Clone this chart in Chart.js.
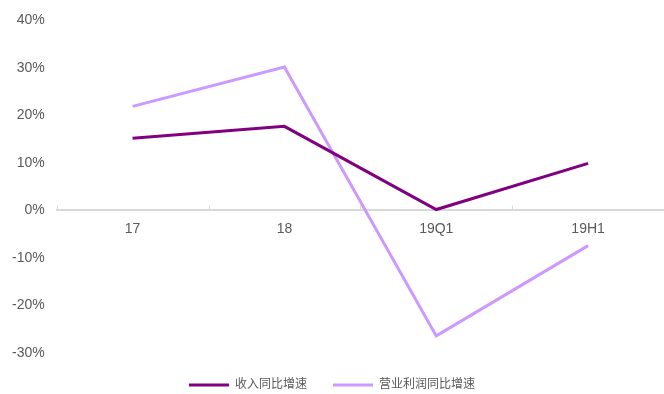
<!DOCTYPE html>
<html lang="zh">
  <head>
    <meta charset="utf-8" />
    <title>增速</title>
    <style>
      html, body { margin: 0; padding: 0; background: #fff; }
      #wrap { width: 664px; height: 394px; }
    </style>
  </head>
  <body>
    <div id="wrap">
      <canvas id="canvas"></canvas>
    </div>

    <script src="https://cdn.jsdelivr.net/npm/chart.js"></script>

    <script>
      const categories = ["17", "18", "19Q1", "19H1"];
      const revenueGrowth = [15.2, 17.7, 0.2, 9.9];
      const profitGrowth = [21.9, 30.2, -26.4, -7.4];
      const yTicks = [-30, -20, -10, 0, 10, 20, 30, 40];

      const font = "'Liberation Sans', 'Noto Sans CJK SC', sans-serif";

      // small upward tick marks on the zero axis, at category boundaries
      const upTicks = {
        id: "upTicks",
        afterDatasetsDraw(chart) {
          const x = chart.scales.x;
          const y0 = chart.scales.y.getPixelForValue(0);
          const step = x.getPixelForValue(1) - x.getPixelForValue(0);
          const c = chart.ctx;
          c.save();
          c.strokeStyle = "#d9d9d9";
          c.lineWidth = 1;
          for (let i = 0; i < categories.length; i++) {
            const px = Math.round(x.getPixelForValue(i) - step / 2) + 0.5;
            c.beginPath();
            c.moveTo(px, y0);
            c.lineTo(px, y0 - 5);
            c.stroke();
          }
          c.restore();
        },
      };

      new Chart(document.getElementById("canvas"), {
        type: "line",
        data: {
          labels: categories,
          datasets: [
            {
              label: "收入同比增速",
              data: revenueGrowth,
              borderColor: "#800080",
              backgroundColor: "#800080",
              borderWidth: 3,
              pointRadius: 0,
              tension: 0,
            },
            {
              label: "营业利润同比增速",
              data: profitGrowth,
              borderColor: "#cc99ff",
              backgroundColor: "#cc99ff",
              borderWidth: 3,
              pointRadius: 0,
              tension: 0,
            },
          ],
        },
        options: {
          responsive: true,
          maintainAspectRatio: false,
          animation: false,
          layout: { padding: { top: 15, right: 0, left: 0, bottom: -7 } },
          scales: {
            x: {
              position: { y: 0 },
              offset: true,
              grid: { display: false, drawTicks: false },
              border: { display: true, color: "#d9d9d9", width: 2 },
              ticks: { color: "#595959", font: { family: font, size: 14 }, padding: 10 },
            },
            y: {
              min: -30,
              max: 40,
              afterBuildTicks(axis) {
                axis.ticks = yTicks.map((v) => ({ value: v }));
              },
              grid: { display: false, drawTicks: false },
              border: { display: false },
              ticks: {
                color: "#595959",
                font: { family: font, size: 14 },
                padding: 12,
                callback: (v) => v + "%",
              },
            },
          },
          plugins: {
            legend: {
              position: "bottom",
              labels: {
                usePointStyle: true,
                pointStyle: "line",
                pointStyleWidth: 40,
                color: "#595959",
                font: { family: font, size: 12 },
                padding: 26,
              },
            },
            tooltip: { enabled: false },
          },
        },
        plugins: [upTicks],
      });
    </script>
  </body>
</html>
